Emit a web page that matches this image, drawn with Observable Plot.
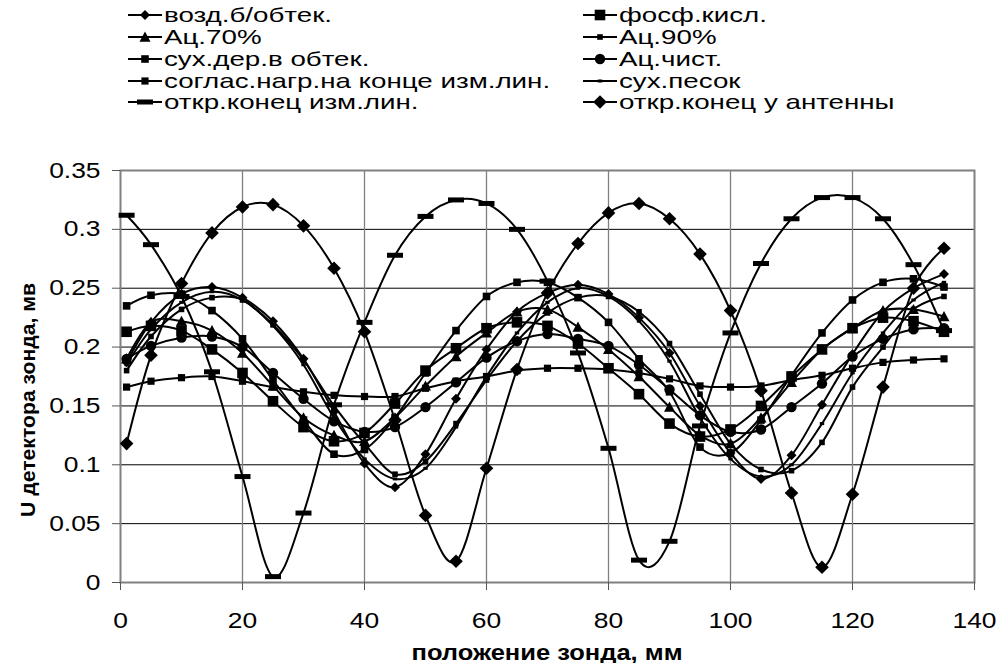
<!DOCTYPE html>
<html>
<head>
<meta charset="utf-8">
<script src="https://cdn.jsdelivr.net/npm/d3@7"></script>
<script src="https://cdn.jsdelivr.net/npm/@observablehq/plot@0.6"></script>
<style>
  html, body { margin: 0; padding: 0; background: #fff; }
  body { width: 998px; height: 663px; overflow: hidden; font-family: "Liberation Sans", Arial, sans-serif; }
  #legend { position: relative; width: 998px; height: 115px; }
  .item { position: absolute; display: flex; align-items: center; height: 22px; line-height: 22px; font-size: 21px; color: #000; white-space: nowrap; }
  .item svg { display: block; margin-right: 2px; flex: none; }
  .item span { display: inline-block; transform: scaleX(1.32); transform-origin: left center; }
</style>
</head>
<body>
<div id="legend"></div>
<div id="chart"></div>
<script>
// ---- data ----
const positions = [1, 5, 10, 15, 20, 25, 30, 35, 40, 45, 50, 55, 60, 65, 70, 75, 80, 85, 90, 95, 100, 105, 110, 115, 120, 125, 130, 135];

const vozd      = [0.187,0.221,0.245,0.251,0.242,0.222,0.190,0.145,0.101,0.081,0.109,0.156,0.198,0.230,0.246,0.253,0.245,0.225,0.195,0.150,0.110,0.088,0.108,0.151,0.194,0.230,0.250,0.262];
const fosf      = [0.213,0.218,0.214,0.198,0.178,0.154,0.132,0.120,0.127,0.152,0.180,0.199,0.216,0.221,0.218,0.203,0.182,0.160,0.135,0.124,0.130,0.150,0.175,0.198,0.216,0.225,0.222,0.213];
const ac70      = [0.190,0.221,0.222,0.214,0.195,0.167,0.140,0.125,0.120,0.140,0.167,0.192,0.212,0.230,0.232,0.217,0.198,0.175,0.149,0.125,0.118,0.140,0.170,0.198,0.216,0.231,0.232,0.226];
const ac90      = [0.180,0.209,0.232,0.242,0.240,0.219,0.189,0.150,0.118,0.092,0.103,0.135,0.172,0.205,0.229,0.242,0.243,0.230,0.203,0.160,0.118,0.096,0.095,0.119,0.166,0.200,0.232,0.243];
const suhDer    = [0.235,0.244,0.245,0.231,0.207,0.172,0.138,0.109,0.113,0.140,0.178,0.214,0.243,0.255,0.255,0.242,0.221,0.190,0.162,0.115,0.110,0.138,0.176,0.212,0.240,0.255,0.258,0.251];
const acChist   = [0.190,0.201,0.208,0.209,0.200,0.178,0.156,0.137,0.128,0.132,0.149,0.170,0.191,0.205,0.211,0.207,0.201,0.185,0.164,0.142,0.128,0.130,0.149,0.169,0.192,0.207,0.215,0.216];
const soglas    = [0.166,0.171,0.174,0.175,0.171,0.166,0.162,0.159,0.158,0.158,0.165,0.171,0.175,0.180,0.182,0.182,0.181,0.178,0.173,0.167,0.166,0.167,0.172,0.176,0.182,0.187,0.189,0.190];
const suhPesok  = [0.185,0.215,0.238,0.247,0.240,0.218,0.185,0.140,0.105,0.088,0.097,0.132,0.175,0.212,0.238,0.250,0.243,0.222,0.188,0.140,0.105,0.090,0.100,0.135,0.178,0.212,0.240,0.255];
const otkrIzm   = [0.312,0.287,0.243,0.179,0.090,0.005,0.059,0.151,0.221,0.278,0.311,0.325,0.322,0.300,0.256,0.195,0.114,0.019,0.035,0.133,0.212,0.271,0.309,0.327,0.327,0.309,0.270,0.214];
const otkrAnt   = [0.118,0.193,0.254,0.297,0.319,0.321,0.303,0.267,0.213,0.138,0.057,0.018,0.097,0.181,0.246,0.288,0.314,0.322,0.309,0.279,0.231,0.163,0.076,0.013,0.075,0.166,0.250,0.284];

const seriesNames = ["возд.б/обтек.", "фосф.кисл.", "Ац.70%", "Ац.90%", "сух.дер.в обтек.", "Ац.чист.", "соглас.нагр.на конце изм.лин.", "сух.песок", "откр.конец изм.лин.", "откр.конец у антенны"];
const seriesValues = [vozd, fosf, ac70, ac90, suhDer, acChist, soglas, suhPesok, otkrIzm, otkrAnt];

const xTicks = [0, 20, 40, 60, 80, 100, 120, 140];
const yTicks = [0, 0.05, 0.1, 0.15, 0.2, 0.25, 0.3, 0.35];
const xLabel = "положение зонда, мм";
const yLabel = "U детектора зонда, мв";

// ---- marker shapes ----
function diamond(r) { return {draw(c) { c.moveTo(0, -r); c.lineTo(r, 0); c.lineTo(0, r); c.lineTo(-r, 0); c.closePath(); }}; }
function square(h) { return {draw(c) { c.moveTo(-h, -h); c.lineTo(h, -h); c.lineTo(h, h); c.lineTo(-h, h); c.closePath(); }}; }
function rect(w, h) { return {draw(c) { c.moveTo(-w, -h); c.lineTo(w, -h); c.lineTo(w, h); c.lineTo(-w, h); c.closePath(); }}; }
function tri(r) { return {draw(c) { c.moveTo(0, -r); c.lineTo(r, r * 0.85); c.lineTo(-r, r * 0.85); c.closePath(); }}; }
function circ(r) { return {draw(c) { c.moveTo(r, 0); c.arc(0, 0, r, 0, 2 * Math.PI); c.closePath(); }}; }

const symbols = [diamond(5), square(5.3), tri(5.5), square(2.8), square(3.8), circ(5.2), square(3.6), rect(2.2, 1.5), rect(8, 2.5), diamond(6.8)];

// ---- long table ----
const rows = [];
seriesNames.forEach((name, i) => positions.forEach((x, j) => rows.push({series: name, x, y: seriesValues[i][j]})));

// ---- legend ----
const legend = document.getElementById("legend");
const rowY = [3.5, 25.5, 47.5, 69.5, 91];
const colX = [128, 583];
seriesNames.forEach((name, i) => {
  const col = i % 2, row = Math.floor(i / 2);
  const div = document.createElement("div");
  div.className = "item";
  div.style.left = colX[col] + "px";
  div.style.top = rowY[row] + "px";
  const s = d3.create("svg").attr("width", 34).attr("height", 22);
  s.append("line").attr("x1", 0).attr("x2", 34).attr("y1", 11).attr("y2", 11).attr("stroke", "#000").attr("stroke-width", 2);
  s.append("path").attr("transform", "translate(17,11)").attr("d", d3.symbol(symbols[i])()).attr("fill", "#000");
  div.appendChild(s.node());
  const span = document.createElement("span");
  span.textContent = name;
  div.appendChild(span);
  legend.appendChild(div);
});

// ---- chart ----
const marks = [
  Plot.gridY(yTicks.filter(v => v > 0 && v < 0.35), {stroke: "#000", strokeOpacity: 1, strokeWidth: 1}),
  Plot.gridX(xTicks.filter(v => v > 0 && v < 140), {stroke: "#808080", strokeOpacity: 1, strokeWidth: 1.3}),
  Plot.frame({stroke: "#808080", strokeWidth: 2}),
  Plot.axisX(xTicks, {tickSize: 8, tickPadding: 22, stroke: "#555", fontSize: 22, label: null, tickFormat: d => String(d)}),
  Plot.axisY(yTicks, {tickSize: 8, tickPadding: 12, stroke: "#555", fontSize: 22, label: null, tickFormat: d => String(+d.toFixed(2))})
];
seriesNames.forEach((name, i) => {
  const data = rows.filter(r => r.series === name);
  marks.push(Plot.line(data, {x: "x", y: "y", curve: "cardinal", stroke: "#000", strokeWidth: 2}));
});
seriesNames.forEach((name, i) => {
  const data = rows.filter(r => r.series === name);
  marks.push(Plot.dot(data, {x: "x", y: "y", symbol: symbols[i], fill: "#000", stroke: "none"}));
});

const chart = Plot.plot({
  width: 998,
  height: 548,
  marginLeft: 120,
  marginRight: 24,
  marginTop: 55,
  marginBottom: 81,
  style: {fontFamily: "'Liberation Sans', Arial, sans-serif", fontSize: "22px", color: "#000", background: "#fff", overflow: "visible"},
  x: {domain: [0, 140]},
  y: {domain: [0, 0.35]},
  marks
});
document.getElementById("chart").appendChild(chart);

const svg = d3.select(chart);
// horizontal stretch of tick labels (the reference text is wider than it is tall)
function stretch(sel, k, anchor) {
  sel.each(function() {
    const b = this.getBBox();
    const cx = anchor === "end" ? b.x + b.width : b.x + b.width / 2;
    const tr = this.getAttribute("transform") || "";
    this.setAttribute("transform", `${tr} translate(${cx},0) scale(${k},1) translate(${-cx},0)`);
  });
}
stretch(svg.selectAll('g[aria-label="x-axis tick label"] text'), 1.2, "middle");
stretch(svg.selectAll('g[aria-label="y-axis tick label"] text'), 1.2, "end");

// axis titles
svg.append("text").attr("x", 547).attr("y", 537).attr("text-anchor", "middle").attr("dominant-baseline", "central")
  .attr("font-weight", "bold").attr("font-size", 22).attr("fill", "#000")
  .attr("textLength", 271).attr("lengthAdjust", "spacingAndGlyphs").text(xLabel);
svg.append("text").attr("transform", "translate(27,285) rotate(-90)").attr("text-anchor", "middle").attr("dominant-baseline", "central")
  .attr("font-weight", "bold").attr("font-size", 21).attr("fill", "#000")
  .attr("textLength", 234).attr("lengthAdjust", "spacingAndGlyphs").text(yLabel);
</script>
</body>
</html>
